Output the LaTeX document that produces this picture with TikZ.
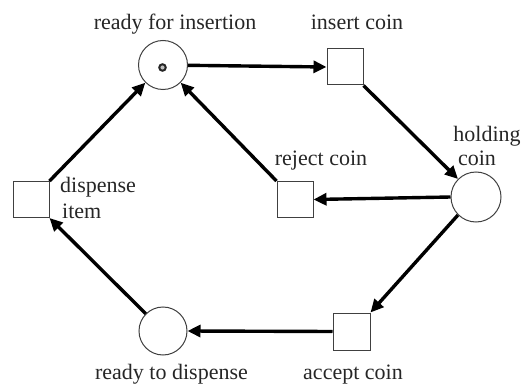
\documentclass[tikz,border=0pt]{standalone}
\usepackage{fontspec}
\newfontfamily\lblfont{Liberation Serif}
\usetikzlibrary{arrows.meta}
\begin{document}
\begin{tikzpicture}[x=1pt,y=-1pt,
  place/.style={circle,draw=black!75,line width=1pt,minimum size=49pt,inner sep=0pt},
  trans/.style={rectangle,draw=black!75,line width=1pt,minimum size=36pt,inner sep=0pt},
  arc/.style={line width=3.4pt,-{Triangle[length=13pt,width=12pt]}},
  lbl/.style={font=\lblfont\fontsize{22}{24}\selectfont,inner sep=0pt,anchor=base,text=black!85}]
\useasboundingbox (0,0) rectangle (522,385);
\node[place] (rfi) at (163,65) {};
\node[trans] (ic) at (345,67) {};
\node[place,minimum size=50pt] (hc) at (476,197) {};
\node[trans] (rc) at (295,199.5) {};
\node[trans] (di) at (31,199.5) {};
\node[place,minimum size=48pt] (rtd) at (163,331) {};
\node[trans,minimum size=37pt] (ac) at (351.5,331.5) {};
\node[circle,draw=black!85,line width=2pt,fill=black!25,minimum size=6.5pt,inner sep=0pt] (tok) at (162.5,67.5) {};
\node[lbl] (l1) at (175,30) {ready for insertion};
\node[lbl] (l2) at (357,30) {insert coin};
\node[lbl] (l3) at (487,142) {holding};
\node[lbl] (l4) at (477,165) {coin};
\node[lbl] (l5) at (321,165) {reject coin};
\node[lbl,anchor=base west] (l6) at (60,192) {dispense};
\node[lbl,anchor=base west] (l7) at (62,218) {item};
\node[lbl] (l8) at (171.5,379) {ready to dispense};
\node[lbl] (l9) at (353,379) {accept coin};
\draw[arc] (rfi) -- (ic.west);
\draw[arc] (ic.south east) -- (hc.north west);
\draw[arc] (hc.west) -- (rc.east);
\draw[arc] (rc.north west) -- (rfi.south east);
\draw[arc] (di.north east) -- (rfi.south west);
\draw[arc] (rtd.north west) -- (di.south east);
\draw[arc] (hc.south west) -- (ac.north east);
\draw[arc] (ac.west) -- (rtd.east);
\end{tikzpicture}
\end{document}
